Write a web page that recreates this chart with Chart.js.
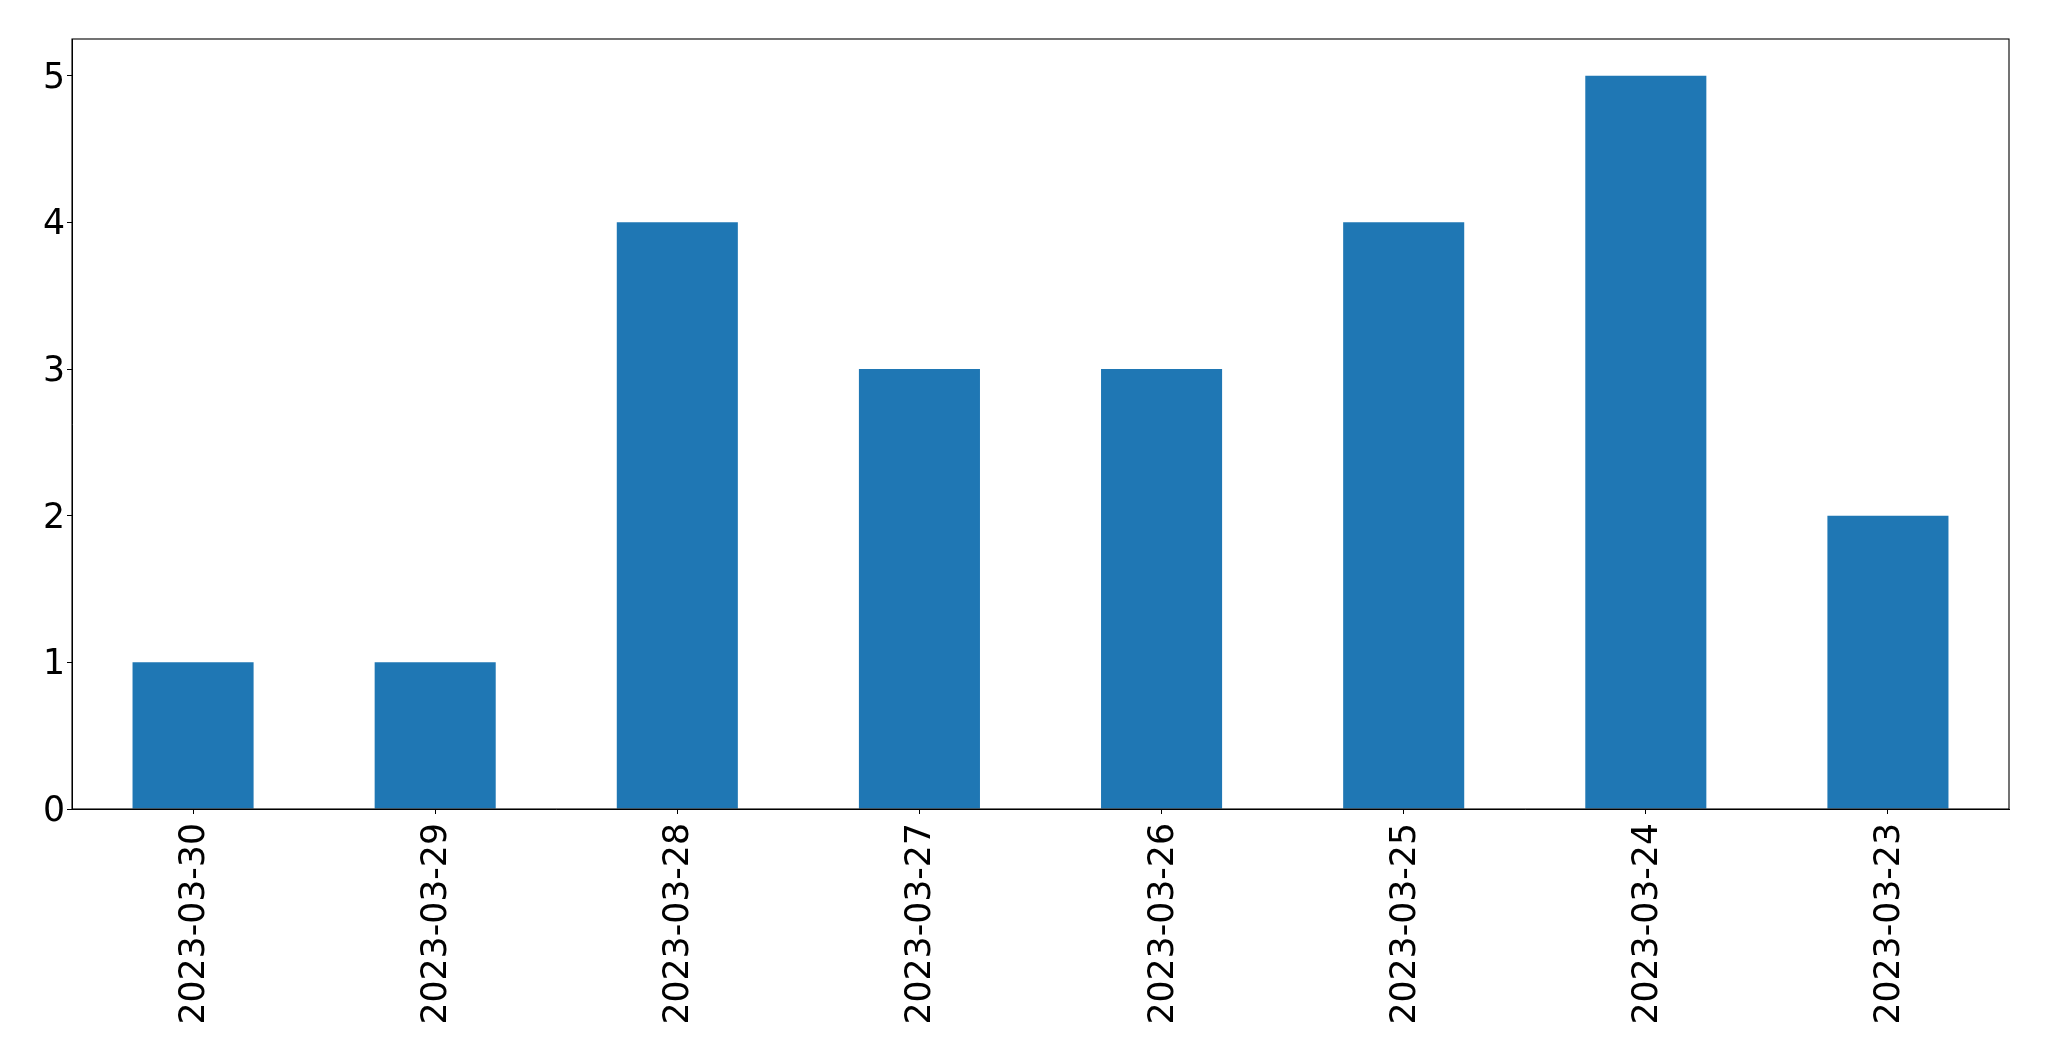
<!DOCTYPE html>
<html>
<head>
<meta charset="utf-8">
<script src="https://cdn.jsdelivr.net/npm/chart.js@4.4.0/dist/chart.umd.min.js"></script>
<style>
html,body{margin:0;padding:0;background:#fff;}
#wrap{width:2049px;height:1061px;position:relative;}
</style>
</head>
<body>
<div id="wrap"><canvas id="c" width="2049" height="1061"></canvas></div>
<script>
const categories = ["2023-03-30","2023-03-29","2023-03-28","2023-03-27","2023-03-26","2023-03-25","2023-03-24","2023-03-23"];
const values = [1, 1, 4, 3, 3, 4, 5, 2];
const yTicks = [0, 1, 2, 3, 4, 5];

const frame = {
  id: 'frame',
  afterDraw(chart) {
    const a = chart.chartArea, ctx = chart.ctx;
    ctx.save();
    ctx.strokeStyle = '#000';
    ctx.lineWidth = 1.1;
    ctx.strokeRect(a.left, a.top, a.right - a.left, a.bottom - a.top);
    ctx.restore();
  }
};

const font = {family: 'DejaVu Sans', size: 34.7};

new Chart(document.getElementById('c'), {
  type: 'bar',
  data: {
    labels: categories,
    datasets: [{data: values, backgroundColor: '#1f77b4', borderWidth: 0, barPercentage: 0.5, categoryPercentage: 1.0}]
  },
  options: {
    responsive: false,
    animation: false,
    layout: {padding: {top: 39, right: 40, left: 0, bottom: 0}},
    plugins: {legend: {display: false}, tooltip: {enabled: false}},
    scales: {
      x: {
        grid: {display: true, offset: false, drawOnChartArea: false, tickLength: 5, color: '#000', lineWidth: 1},
        border: {display: true, color: '#000', width: 1},
        ticks: {font: font, color: '#000', minRotation: 90, maxRotation: 90, padding: 9, labelOffset: 2, autoSkip: false},
        afterFit(s) { s.height = 252; }
      },
      y: {
        min: 0, max: 5.25,
        grid: {display: true, drawOnChartArea: false, tickLength: 5, color: '#000', lineWidth: 1},
        border: {display: true, color: '#000', width: 1},
        ticks: {font: font, color: '#000', padding: 2, stepSize: 1, labelOffset: 3},
        afterBuildTicks(s) { s.ticks = yTicks.map(v => ({value: v})); },
        afterFit(s) { s.width = 72; }
      }
    }
  },
  plugins: [frame]
});
</script>
</body>
</html>
